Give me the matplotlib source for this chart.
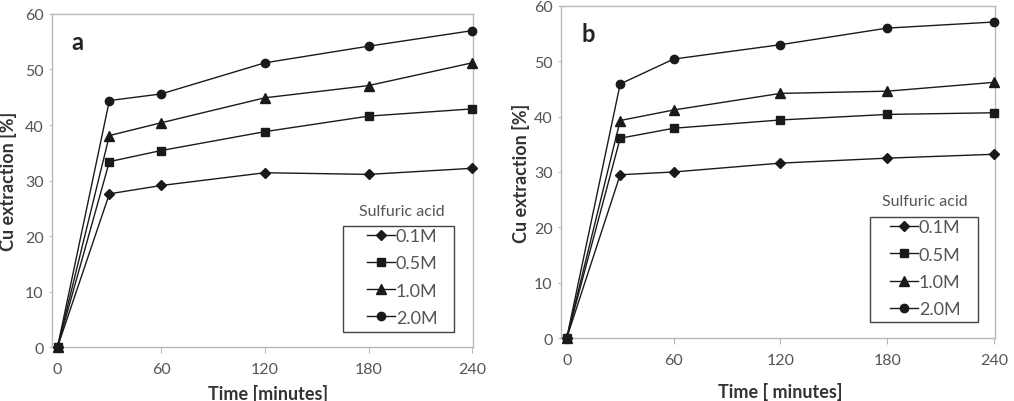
import matplotlib
matplotlib.use("Agg")
import matplotlib.pyplot as plt
from matplotlib.patches import Rectangle

plt.rcParams['font.family'] = ['Lato', 'DejaVu Sans']

time_min = [0, 30, 60, 120, 180, 240]
acid_labels = ['0.1M', '0.5M', '1.0M', '2.0M']
markers = ['D', 's', '^', 'o']
marker_sizes = [5.5, 6, 7, 6]

# panel a
cu_a = {
    '0.1M': [0, 27.6, 29.1, 31.4, 31.1, 32.2],
    '0.5M': [0, 33.4, 35.4, 38.8, 41.6, 42.9],
    '1.0M': [0, 38.1, 40.4, 44.9, 47.1, 51.2],
    '2.0M': [0, 44.4, 45.6, 51.2, 54.2, 57.0],
}
# panel b
cu_b = {
    '0.1M': [0, 29.5, 30.0, 31.6, 32.5, 33.2],
    '0.5M': [0, 36.1, 37.9, 39.4, 40.4, 40.7],
    '1.0M': [0, 39.3, 41.2, 44.2, 44.6, 46.2],
    '2.0M': [0, 45.9, 50.4, 53.0, 56.0, 57.1],
}
x_ticks = [0, 60, 120, 180, 240]
y_ticks = [0, 10, 20, 30, 40, 50, 60]

line_col = '#1a1a1a'
spine_col = '#b8b8b8'
text_col = '#555555'
label_col = '#333333'


def draw_panel(ax, data, letter, xlabel, cfg):
    for lab, m, ms in zip(acid_labels, markers, marker_sizes):
        ax.plot(time_min, data[lab], color=line_col, lw=1.0, marker=m,
                markersize=ms, label=lab, clip_on=False, zorder=3)
    ax.set_xlim(-3.2, 240.5)
    ax.set_ylim(0, 60)
    ax.set_xticks(x_ticks)
    ax.set_yticks(y_ticks)
    for s in ax.spines.values():
        s.set_color(spine_col)
        s.set_linewidth(1.0)
    ax.tick_params(colors=spine_col, labelcolor=text_col, labelsize=11.5,
                   direction='out')
    ax.tick_params(axis='y', length=2, pad=4)
    ax.tick_params(axis='x', length=4, pad=7)
    ax.set_xlabel(xlabel, fontsize=13, fontweight='bold', color=label_col)
    ax.set_ylabel('Cu extraction [%]', fontsize=13, fontweight='bold',
                  color=label_col)
    ax.xaxis.set_label_coords(*cfg['xlab'])
    ax.yaxis.set_label_coords(*cfg['ylab'])
    ax.text(cfg['letter'][0], cfg['letter'][1], letter, transform=ax.transAxes,
            fontsize=17, fontweight='bold', color='#222222',
            ha='center', va='center')

    # legend entries without frame, box drawn separately
    ax.legend(loc='upper left', bbox_to_anchor=cfg['leg'], frameon=False,
              fontsize=13, handlelength=1.55, handletextpad=0.05,
              labelspacing=0.62, borderpad=0, borderaxespad=0,
              labelcolor=text_col)
    x0, y0, x1, y1 = cfg['box']
    ax.add_patch(Rectangle((x0, y0), x1 - x0, y1 - y0, transform=ax.transAxes,
                           fill=False, edgecolor='#444444', lw=1.0,
                           clip_on=False, zorder=4))
    ax.text(cfg['title'][0], cfg['title'][1], 'Sulfuric acid',
            transform=ax.transAxes, fontsize=11.5, color=text_col,
            ha='center', va='center')


fig = plt.figure(figsize=(10.14, 4.02), dpi=100)
ax_a = fig.add_axes([0.0513, 0.1343, 0.4152, 0.8284])
ax_b = fig.add_axes([0.5533, 0.1567, 0.4280, 0.8260])

cfg_a = dict(xlab=(0.513, -0.112), ylab=(-0.083, 0.5), letter=(0.06, 0.916),
             leg=(0.748, 0.357), box=(0.691, 0.045, 0.955, 0.363),
             title=(0.831, 0.408))
cfg_b = dict(xlab=(0.505, -0.1325), ylab=(-0.071, 0.5), letter=(0.062, 0.916),
             leg=(0.758, 0.357), box=(0.712, 0.048, 0.961, 0.364),
             title=(0.839, 0.413))

draw_panel(ax_a, cu_a, 'a', 'Time [minutes]', cfg_a)
draw_panel(ax_b, cu_b, 'b', 'Time [ minutes]', cfg_b)

fig.savefig('out.png', dpi=100)
